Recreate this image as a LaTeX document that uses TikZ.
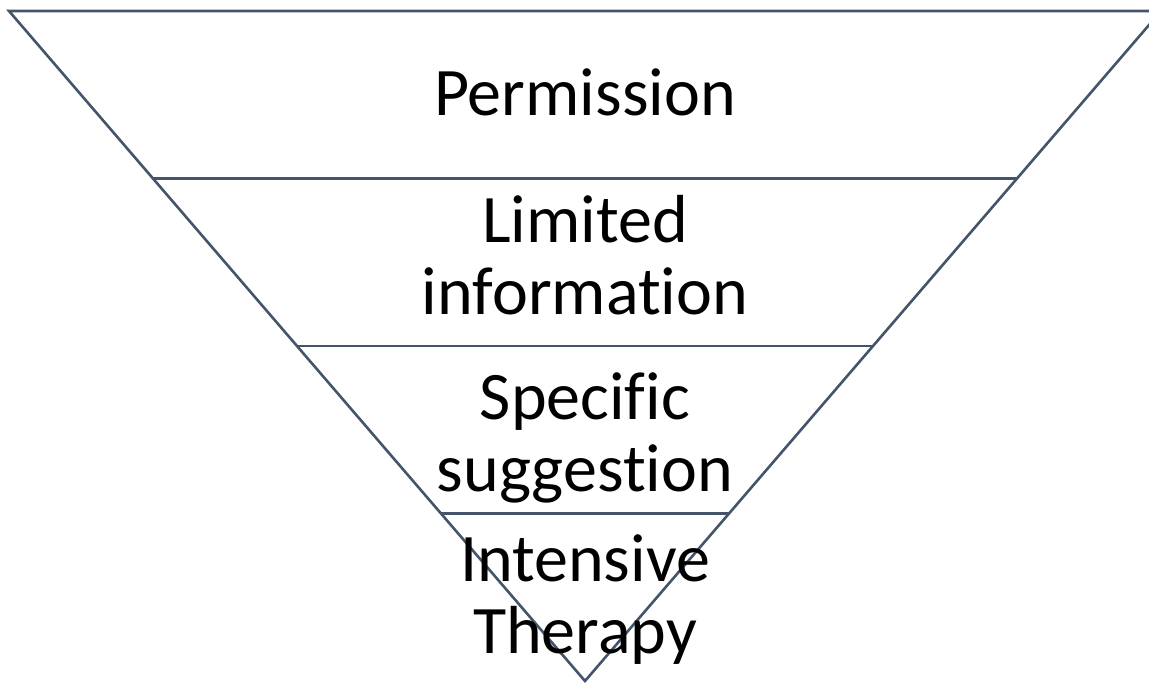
\documentclass[tikz,border=0pt]{standalone}
\usepackage{fontspec}
\setmainfont{Carlito}[Ligatures=NoCommon]
\usepackage{tikz}
\usetikzlibrary{calc}
\definecolor{slate}{HTML}{44546A}

\tikzset{
	layer/.style={align=center, font=\fontsize{34}{36}\selectfont, inner sep=0pt},
	edge/.style={draw=slate, line width=1.3pt}
}

\begin{document}
\begin{tikzpicture}[x=0.5pt, y=-0.5pt]
				\clip (0,0) rectangle (1149,682);
				\coordinate (tl) at (9,11);
				\coordinate (tr) at (1161,11);
				\coordinate (apex) at (585,681);
				\draw [edge] (tl) -- (tr) -- (apex) -- cycle;
				\foreach \f in {0.25,0.5,0.75}
					\draw [edge] ($(tl)!\f!(apex)$) -- ($(tr)!\f!(apex)$);
				\node [layer] (permission) at (585,92) {Permission};
				\node [layer] (limited) at (585,255) {Limited\\information};
				\node [layer] (specific) at (585,438) {Specific\\suggestion};
				\node [layer] (intensive) at (585,600) {Intensive\\Therapy};
\end{tikzpicture}
\end{document}
